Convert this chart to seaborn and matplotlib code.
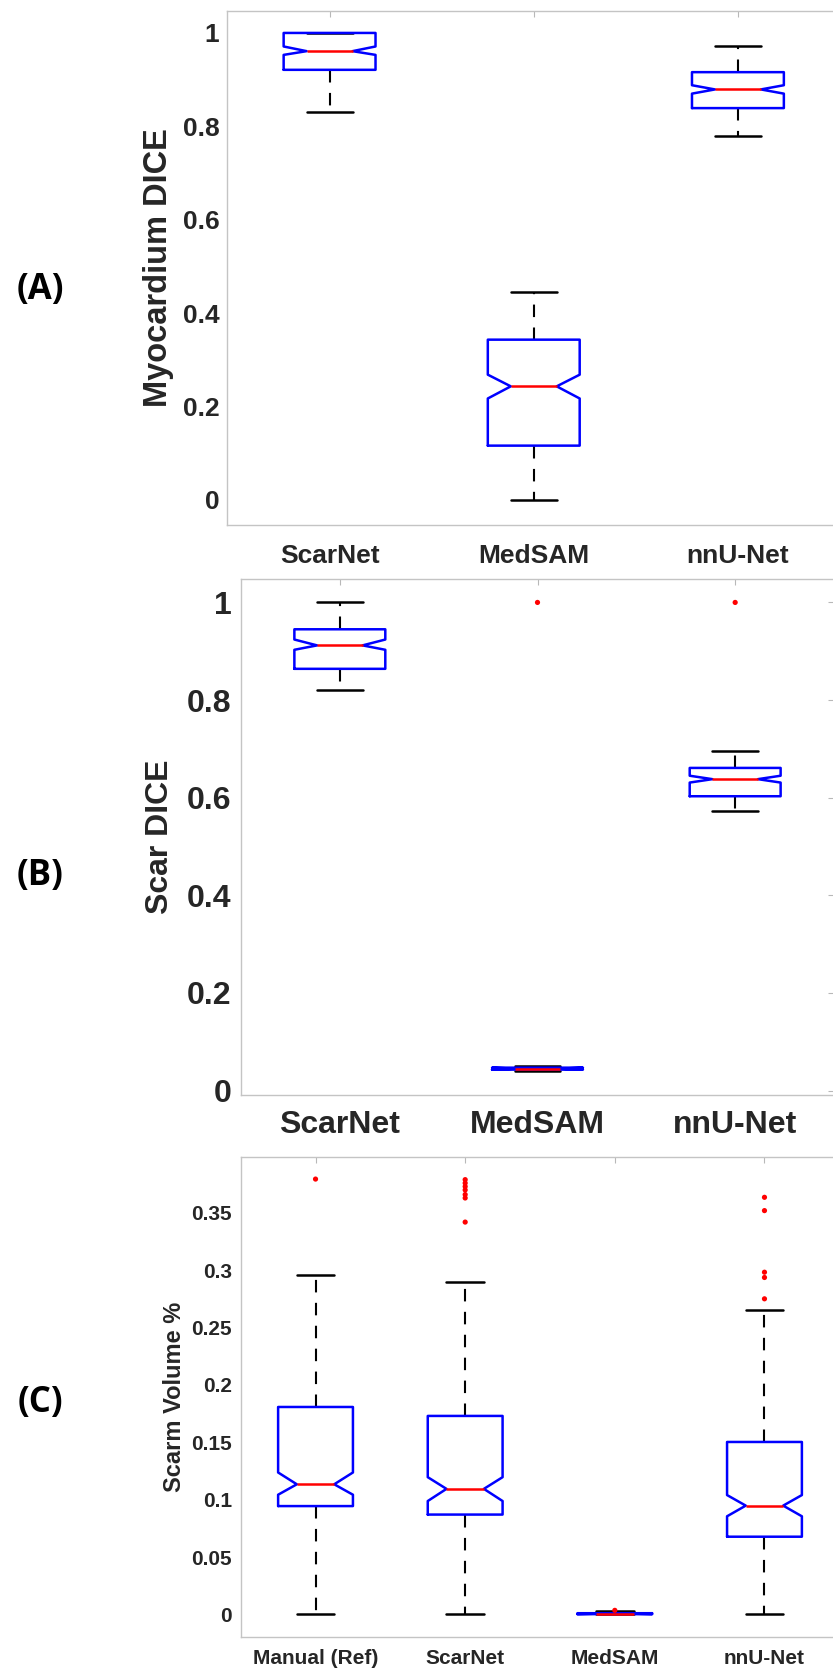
import matplotlib
matplotlib.use("Agg")
import matplotlib.pyplot as plt
import seaborn as sns
import numpy as np

# (A) Myocardium DICE - summary stats
dice_methods = ["ScarNet", "MedSAM", "nnU-Net"]
myo_q1 = [0.921, 0.116, 0.839]
myo_med = [0.961, 0.243, 0.879]
myo_q3 = [1.000, 0.343, 0.916]
myo_lo = [0.831, 0.000, 0.779]
myo_hi = [1.000, 0.445, 0.973]
myo_ci_lo = [0.953, 0.217, 0.870]
myo_ci_hi = [0.971, 0.268, 0.888]
myo_flier_pos = []
myo_flier_val = []

# (B) Scar DICE
scar_q1 = [0.864, 0.043, 0.603]
scar_med = [0.912, 0.045, 0.638]
scar_q3 = [0.945, 0.047, 0.661]
scar_lo = [0.820, 0.040, 0.573]
scar_hi = [1.000, 0.050, 0.696]
scar_ci_lo = [0.903, 0.043, 0.631]
scar_ci_hi = [0.924, 0.047, 0.645]
scar_flier_pos = [2, 3]
scar_flier_val = [1.0, 1.0]

# (C) Scar volume %
vol_methods = ["Manual (Ref)", "ScarNet", "MedSAM", "nnU-Net"]
vol_q1 = [0.0944, 0.0870, 0.0002, 0.0677]
vol_med = [0.1134, 0.1094, 0.0006, 0.0948]
vol_q3 = [0.1808, 0.1730, 0.0010, 0.1503]
vol_lo = [0.0, 0.0, 0.0, 0.0]
vol_hi = [0.2955, 0.2900, 0.0025, 0.2652]
vol_ci_lo = [0.1043, 0.0988, 0.0002, 0.0855]
vol_ci_hi = [0.1237, 0.1196, 0.0010, 0.1040]
vol_flier_pos = [1, 2, 2, 2, 2, 2, 2, 2, 3, 4, 4, 4, 4, 4]
vol_flier_val = [0.3795, 0.379, 0.376, 0.373, 0.370, 0.366, 0.363, 0.342,
                 0.0035, 0.3636, 0.352, 0.2983, 0.2937, 0.2751]

W, H = 833, 1670
TICK_COLOR = "#262626"


def draw_panel(ax, names, q1, med, q3, lo, hi, ci_lo, ci_hi, flier_pos, flier_val,
               width, ylim, yticks, ylabel, tick_size, label_size, xpad, ypad, label_x):
    pos = np.arange(1, len(names) + 1)
    stats = []
    for i in range(len(names)):
        stats.append(dict(med=med[i], q1=q1[i], q3=q3[i], whislo=lo[i], whishi=hi[i],
                          cilo=ci_lo[i], cihi=ci_hi[i], fliers=[]))
    # box sits over the caps, median over the box
    ax.bxp(stats, positions=pos, widths=width, shownotches=True, manage_ticks=False,
           boxprops=dict(color="#0000ff", linewidth=1.8, zorder=3),
           medianprops=dict(color="#ff0000", linewidth=1.8, zorder=4),
           whiskerprops=dict(color="black", linewidth=1.5, linestyle=(0, (6, 5))),
           capprops=dict(color="black", linewidth=1.8, zorder=2))
    if flier_val:
        sns.scatterplot(x=flier_pos, y=flier_val, color="#ff0000", s=14,
                        edgecolor="none", legend=False, ax=ax, zorder=5)
    ax.set_xlim(0.5, len(names) + 0.5)
    ax.set_ylim(*ylim)
    ax.set_xticks(pos, names, fontsize=tick_size, fontweight="bold")
    ax.set_yticks(yticks, ["%g" % t for t in yticks], fontsize=tick_size, fontweight="bold")
    ax.tick_params(direction="in", length=4.3, width=0.8, color="#b8b8b8",
                   labelcolor=TICK_COLOR, top=True, right=True)
    ax.tick_params(axis="x", pad=xpad)
    ax.tick_params(axis="y", pad=ypad)
    ax.set_xlabel("")
    ax.set_ylabel(ylabel, fontsize=label_size, fontweight="bold", color=TICK_COLOR)
    ax.yaxis.set_label_coords(label_x, 0.5)
    for s in ax.spines.values():
        s.set_visible(True)
        s.set_color("#c4c4c4")
        s.set_linewidth(1.0)
    ax.grid(False)


def add_axes(fig, left, top, right, bottom):
    return fig.add_axes([left / W, 1 - bottom / H, (right - left) / W, (bottom - top) / H])


sns.set_style("white")
plt.rcParams["font.family"] = ["Liberation Sans", "DejaVu Sans"]

fig = plt.figure(figsize=(W / 100, H / 100), dpi=100)

ax_a = add_axes(fig, 227.5, 11, 840, 525)
draw_panel(ax_a, dice_methods, myo_q1, myo_med, myo_q3, myo_lo, myo_hi, myo_ci_lo, myo_ci_hi,
           myo_flier_pos, myo_flier_val, 0.45, (-0.054, 1.047), [0, 0.2, 0.4, 0.6, 0.8, 1],
           "Myocardium DICE", 19, 23.5, 13.5, 5.8, -0.088)

ax_b = add_axes(fig, 241, 579, 834, 1095)
draw_panel(ax_b, dice_methods, scar_q1, scar_med, scar_q3, scar_lo, scar_hi, scar_ci_lo, scar_ci_hi,
           scar_flier_pos, scar_flier_val, 0.46, (-0.009, 1.048), [0, 0.2, 0.4, 0.6, 0.8, 1],
           "Scar DICE", 23, 23, 11, 7, -0.111)

ax_c = add_axes(fig, 240.7, 1156.7, 839.3, 1637.3)
draw_panel(ax_c, vol_methods, vol_q1, vol_med, vol_q3, vol_lo, vol_hi, vol_ci_lo, vol_ci_hi,
           vol_flier_pos, vol_flier_val, 0.5, (-0.02, 0.399),
           [0, 0.05, 0.1, 0.15, 0.2, 0.25, 0.3, 0.35],
           "Scarm Volume %", 15, 17, 8.5, 6.3, -0.091)

for lab, y in [("(A)", 290), ("(B)", 876), ("(C)", 1403)]:
    fig.text(40 / W, 1 - y / H, lab, fontsize=25, fontweight="bold", color="black",
             family=["Open Sans", "DejaVu Sans"], ha="center", va="center")

fig.savefig("out.png", dpi=100)
